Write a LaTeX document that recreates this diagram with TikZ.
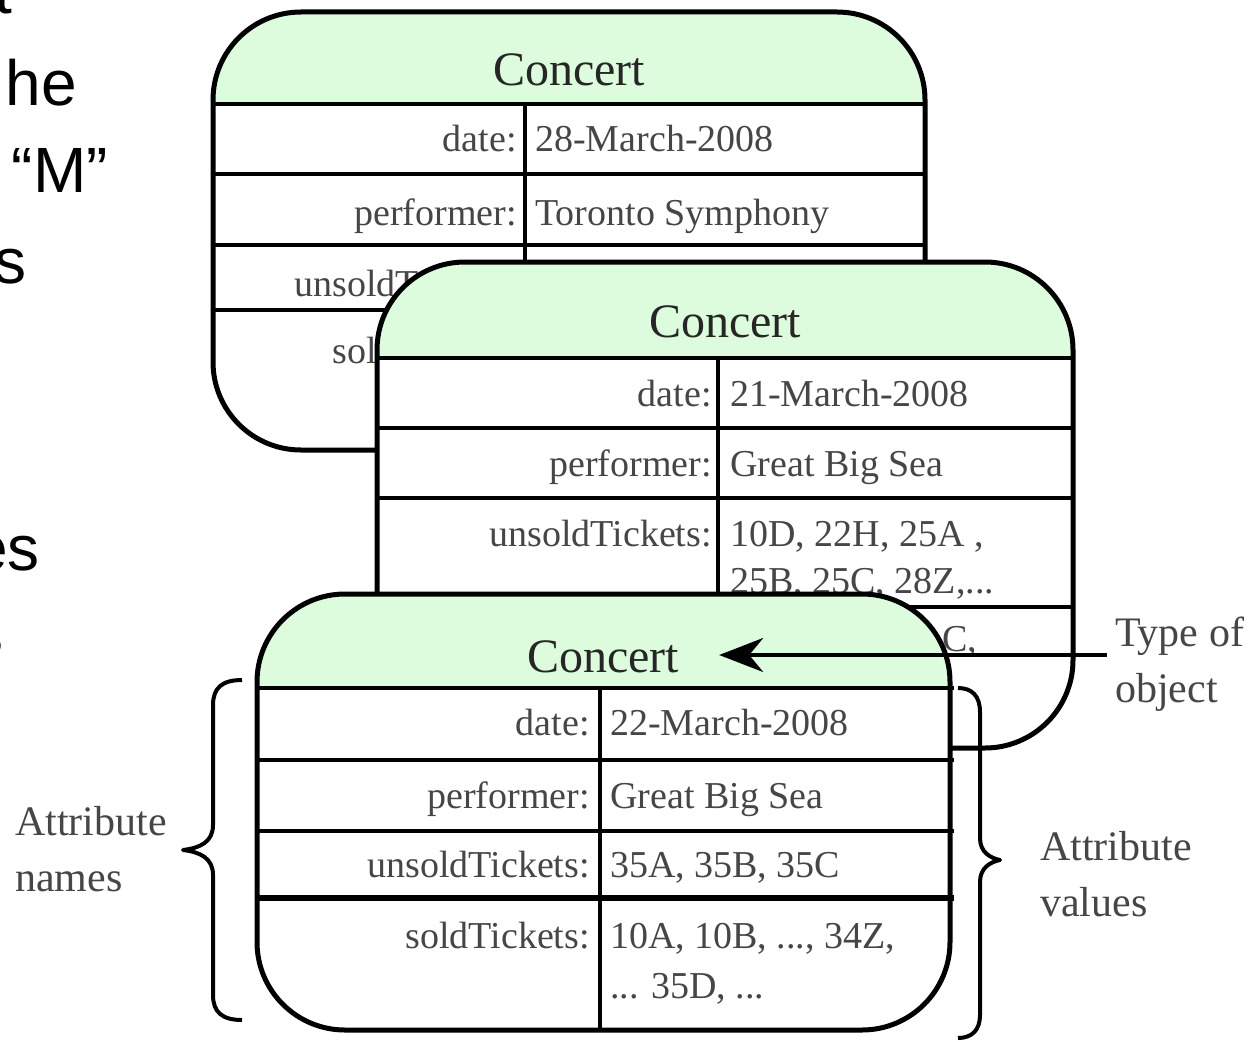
\documentclass[tikz,border=0pt]{standalone}
\usepackage{fontspec}
\setmainfont{Liberation Serif}
\newfontfamily\slidefont{Liberation Sans}
\usetikzlibrary{arrows.meta}
\definecolor{hdr}{RGB}{221,251,221}
\definecolor{txt}{RGB}{70,70,70}
\begin{document}
\begin{tikzpicture}[x=1pt,y=-1pt,
  cardedge/.style={line width=5pt, rounded corners=88pt},
  rowline/.style={line width=4pt},
  keytext/.style={anchor=base east, text=txt, font=\fontsize{38}{40}\selectfont, inner sep=0pt},
  valtext/.style={anchor=base west, text=txt, font=\fontsize{38}{40}\selectfont, inner sep=0pt},
  cardtitle/.style={text=black!85, font=\fontsize{48}{50}\selectfont, inner xsep=40pt, inner ysep=0pt},
  notetext/.style={align=left, text=txt, font=\fontsize{42}{56}\selectfont, anchor=west, inner sep=0pt},
  slidetext/.style={anchor=base east, font=\slidefont\fontsize{64}{70}\selectfont, inner sep=0pt},
  bracepath/.style={line width=4pt, line join=round},
  arrowline/.style={line width=4pt, -{Stealth[length=44pt,width=34pt,inset=14pt]}}
]
\useasboundingbox (0,0) rectangle (1260,1041);

% slide text fragments on the left
\begin{scope}
  \clip (0,0) rectangle (1260,1041);
  \node[slidetext] (f0) at (12,14) {t};
  \node[slidetext] (f1) at (77,105) {he};
  \node[slidetext] (f2) at (108,192) {“M”};
  \node[slidetext] (f3) at (27,283) {s};
  \node[slidetext] (f4) at (40,570) {es};
  \node[slidetext] (f5) at (4,655) {s};
\end{scope}

% ---------- card 1 ----------
\fill[white, rounded corners=88pt] (213,12) rectangle (925,450);
\begin{scope}
  \clip[rounded corners=88pt] (213,12) rectangle (925,450);
  \fill[hdr] (213,12) rectangle (925,104);
\end{scope}
\draw[rowline] (213,104) -- (925,104);
\draw[rowline] (213,174) -- (925,174);
\draw[rowline] (213,245) -- (925,245);
\draw[rowline] (213,310) -- (925,310);
\draw[rowline] (525,104) -- (525,450);
\draw[cardedge] (213,12) rectangle (925,450);
\node[cardtitle] (c1title) at (569,70) {Concert};
\node[keytext] (c1k1) at (517,151) {date:};
\node[valtext] (c1v1) at (535,151) {28-March-2008};
\node[keytext] (c1k2) at (517,225) {performer:};
\node[valtext] (c1v2) at (535,225) {Toronto Symphony};
\node[keytext] (c1k3) at (517,296) {unsoldTickets:};
\node[keytext] (c1k4) at (517,363) {soldTickets:};

% ---------- card 2 ----------
\fill[white, rounded corners=88pt] (377,262) rectangle (1073,748);
\begin{scope}
  \clip[rounded corners=88pt] (377,262) rectangle (1073,748);
  \fill[hdr] (377,262) rectangle (1073,358);
\end{scope}
\draw[rowline] (377,358) -- (1073,358);
\draw[rowline] (377,428) -- (1073,428);
\draw[rowline] (377,498) -- (1073,498);
\draw[rowline] (377,607) -- (1073,607);
\draw[rowline] (718,358) -- (718,748);
\draw[cardedge] (377,262) rectangle (1073,748);
\node[cardtitle] (c2title) at (725,322) {Concert};
\node[keytext] (c2k1) at (712,406) {date:};
\node[valtext] (c2v1) at (730,406) {21-March-2008};
\node[keytext] (c2k2) at (712,476) {performer:};
\node[valtext] (c2v2) at (730,476) {Great Big Sea};
\node[keytext] (c2k3) at (712,546) {unsoldTickets:};
\node[valtext, align=left, font=\fontsize{38}{47}\selectfont] (c2v3) at (730,593) {10D, 22H, 25A ,\\25B, 25C, 28Z,...};
\node[valtext] (c2v4) at (942,651) {C,};

% ---------- card 3 ----------
\fill[white, rounded corners=88pt] (257,594) rectangle (950,1030);
\begin{scope}
  \clip[rounded corners=88pt] (257,594) rectangle (950,1030);
  \fill[hdr] (257,594) rectangle (950,688);
\end{scope}
\draw[rowline] (257,688) -- (954,688);
\draw[rowline] (257,760) -- (954,760);
\draw[rowline] (257,831) -- (954,831);
\draw[line width=6pt] (257,898) -- (954,898);
\draw[rowline] (600,688) -- (600,1030);
\draw[cardedge] (257,594) rectangle (950,1030);
\node[cardtitle] (c3title) at (603,657) {Concert};
\node[keytext] (c3k1) at (590,735) {date:};
\node[valtext] (c3v1) at (610,735) {22-March-2008};
\node[keytext] (c3k2) at (590,808) {performer:};
\node[valtext] (c3v2) at (610,808) {Great Big Sea};
\node[keytext] (c3k3) at (590,877) {unsoldTickets:};
\node[valtext] (c3v3) at (610,877) {35A, 35B, 35C};
\node[keytext] (c3k4) at (590,948) {soldTickets:};
\node[valtext, align=left, font=\fontsize{38}{50}\selectfont] (c3v4) at (610,998) {10A, 10B, ..., 34Z,\\... 35D, ...};

% ---------- braces ----------
\draw[bracepath] (242,680) .. controls (222,680) and (213,688) .. (213,705)
  -- (213,825) .. controls (213,842) and (200,848) .. (183,850)
  .. controls (200,852) and (213,858) .. (213,875)
  -- (213,995) .. controls (213,1012) and (222,1020) .. (242,1020);
\draw[bracepath] (958,688) .. controls (972,688) and (980,696) .. (980,712)
  -- (980,838) .. controls (980,852) and (990,858) .. (1000,860)
  .. controls (990,862) and (980,868) .. (980,882)
  -- (980,1015) .. controls (980,1030) and (972,1038) .. (958,1038);

% ---------- annotations ----------
\node[notetext] (names) at (15,849) {Attribute\\names};
\node[notetext] (values) at (1040,874) {Attribute\\values};
\node[notetext] (typeof) at (1115,664) {Type of\\object};
\coordinate (arrS) at (1107,655);
\draw[arrowline] (arrS) -- (c3title.east |- arrS);
\end{tikzpicture}
\end{document}
